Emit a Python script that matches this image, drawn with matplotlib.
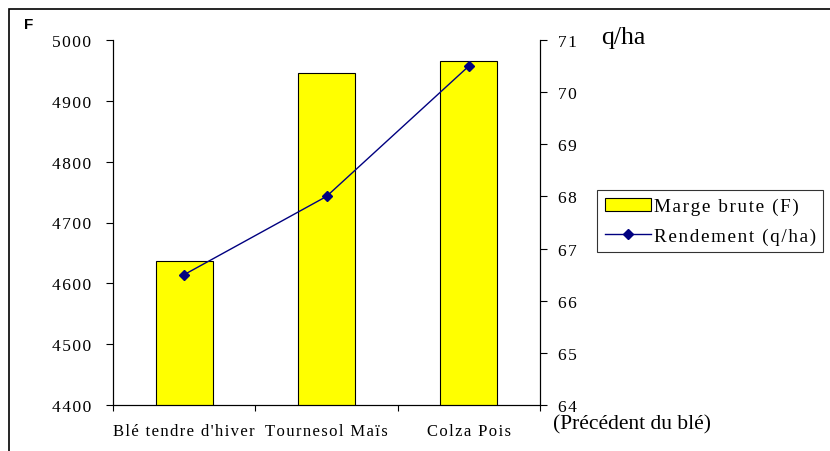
import matplotlib
matplotlib.use("Agg")
import matplotlib.pyplot as plt
from matplotlib.patches import Rectangle
import numpy as np

categories = ["Blé tendre d'hiver", "Tournesol Maïs", "Colza Pois"]
marge_brute = [4637, 4946, 4965]
rendement = [66.5, 68.0, 70.5]
left_ticks = [4400, 4500, 4600, 4700, 4800, 4900, 5000]
right_ticks = [64, 65, 66, 67, 68, 69, 70, 71]

HS = "\u200a"


def spaced(s):
    return HS.join(s)


W, H = 830, 452
fig = plt.figure(figsize=(W / 100, H / 100), dpi=100)
fig.patch.set_facecolor("white")

x0, x1 = 113, 540
y_top, y_bot = 41, 406
ax = fig.add_axes([x0 / W, 1 - y_bot / H, (x1 - x0) / W, (y_bot - y_top) / H])
serif = ["Liberation Serif", "DejaVu Serif"]

x = np.arange(len(categories))
ax.bar(x, marge_brute, width=0.4, color="#FFFF00", edgecolor="black",
       linewidth=0.8, label=spaced("Marge brute (F)"), zorder=2)
ax.set_xlim(-0.5, len(categories) - 0.5)
ax.set_ylim(4400, 5000)
ax.set_yticks(left_ticks)
ax.set_yticklabels([spaced(str(t)) for t in left_ticks], fontfamily=serif, fontsize=12.5)
ax.set_xticks([-0.5, 0.5, 1.5, 2.5])
ax.set_xticklabels([])
ax.tick_params(axis="x", direction="out", length=4, width=0.8)
ax.tick_params(axis="y", direction="out", length=5, width=0.8, pad=11)
for i, c in enumerate(categories):
    ax.text(i, -0.07, spaced(c), transform=ax.get_xaxis_transform(), ha="center", va="center",
            fontfamily=serif, fontsize=12)
ax.spines["top"].set_visible(False)
for s in ["left", "bottom", "right"]:
    ax.spines[s].set_linewidth(0.8)

ax2 = ax.twinx()
ax2.plot(x, rendement, color="#000080", marker="D", markersize=5, linewidth=1,
         label=spaced("Rendement (q/ha)"), zorder=3)
ax2.set_ylim(64, 71)
ax2.set_yticks(right_ticks)
ax2.set_yticklabels([spaced(str(t)) for t in right_ticks], fontfamily=serif, fontsize=12.5)
ax2.tick_params(axis="y", direction="out", length=5, width=0.8, pad=8)
ax2.spines["top"].set_visible(False)
ax2.spines["right"].set_linewidth(0.8)

h1, l1 = ax.get_legend_handles_labels()
h2, l2 = ax2.get_legend_handles_labels()
leg = fig.legend(h1 + h2, l1 + l2, loc="upper left",
                 bbox_to_anchor=(597 / W, 1 - 191 / H),
                 prop={"family": serif, "size": 13.8}, frameon=True, fancybox=False,
                 edgecolor="black", handlelength=2.4, handletextpad=0.15,
                 borderpad=0.4, labelspacing=0.62, borderaxespad=0)
leg.get_frame().set_linewidth(0.8)

fig.text(24 / W, 1 - 25 / H, "F", fontfamily=["Liberation Sans", "DejaVu Sans"],
         fontweight="bold", fontsize=11, ha="left", va="center")
fig.text(601 / W, 1 - 38 / H, "q/ha", fontfamily=serif, fontsize=18.5, ha="left", va="center")
fig.text(553 / W, 1 - 425 / H, "(Précédent du blé)", fontfamily=serif, fontsize=15.5,
         ha="left", va="center")

fig.patches.append(Rectangle((9 / W, -0.05), (W + 20) / W, 1.05 - 10 / H,
                             transform=fig.transFigure, fill=False,
                             edgecolor="black", linewidth=1.2))

fig.savefig("out.png", dpi=100)
